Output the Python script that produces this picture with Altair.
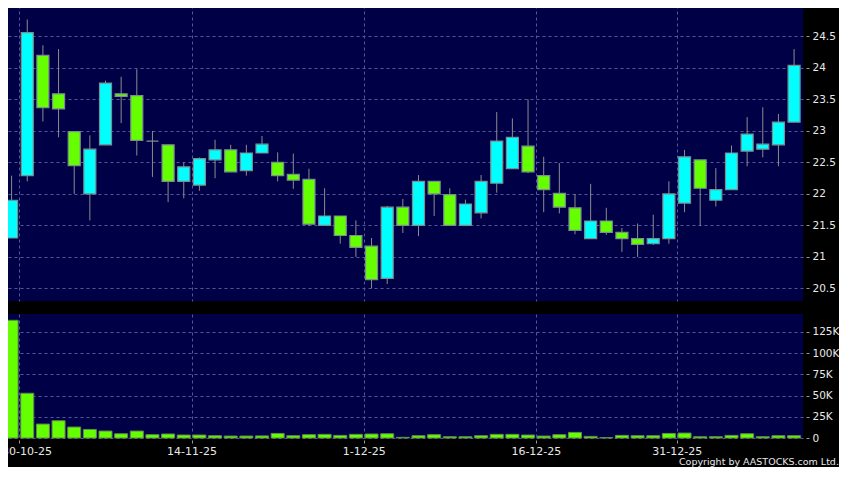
import altair as alt
import pandas as pd

# ---- data ----
opens = [21.30, 22.29, 24.20, 23.59, 22.99, 22.00, 22.78, 23.59, 23.56, 22.84,
         22.78, 22.20, 22.14, 22.54, 22.70, 22.37, 22.65, 22.50, 22.31, 22.23,
         21.50, 21.65, 21.34, 21.17, 20.66, 21.79, 21.50, 22.20, 21.99, 21.50,
         21.70, 22.17, 22.40, 22.76, 22.29, 22.01, 21.78, 21.29, 21.57, 21.39,
         21.29, 21.21, 21.29, 21.855, 22.54, 21.90, 22.07, 22.68, 22.71, 22.78,
         23.14]
closes = [21.90, 24.56, 23.37, 23.35, 22.45, 22.71, 23.76, 23.55, 22.85, 22.84,
          22.20, 22.43, 22.56, 22.70, 22.35, 22.65, 22.79, 22.29, 22.22, 21.52,
          21.65, 21.34, 21.15, 20.64, 21.79, 21.50, 22.20, 22.00, 21.50, 21.84,
          22.20, 22.84, 22.90, 22.35, 22.07, 21.79, 21.42, 21.57, 21.39, 21.29,
          21.20, 21.29, 22.00, 22.59, 22.09, 22.07, 22.65, 22.95, 22.79, 23.14,
          24.04]
highs = [22.29, 24.77, 24.36, 24.30, 22.99, 22.93, 23.80, 23.86, 23.98, 23.00,
         22.78, 22.50, 22.58, 22.86, 22.78, 22.78, 22.92, 22.66, 22.64, 22.40,
         22.09, 21.65, 21.58, 21.30, 21.81, 21.92, 22.30, 22.20, 22.09, 21.91,
         22.30, 23.30, 23.20, 23.50, 22.59, 22.49, 22.00, 22.16, 21.78, 21.46,
         21.53, 21.67, 22.20, 22.70, 22.54, 22.41, 22.77, 23.22, 23.375, 23.27,
         24.30]
lows = [21.30, 22.20, 23.15, 22.90, 22.00, 21.58, 22.78, 23.125, 22.61, 22.27,
        21.87, 21.93, 22.05, 22.25, 22.35, 22.29, 22.65, 22.20, 22.08, 21.49,
        21.50, 21.21, 21.00, 20.50, 20.57, 21.38, 21.33, 21.65, 21.50, 21.50,
        21.61, 22.02, 22.40, 22.33, 21.71, 21.69, 21.36, 21.29, 21.35, 21.08,
        21.00, 21.19, 21.21, 21.71, 21.49, 21.80, 22.07, 22.44, 22.58, 22.44,
        23.14]
volumes = [138600, 52700, 16400, 20300, 12900, 10100, 8200, 5000, 8200, 3900,
           4700, 3500, 3500, 2700, 2300, 2300, 2500, 5400, 2700, 3900,
           4300, 3100, 4300, 4700, 5000, 800, 2700, 3900, 1500, 1500,
           2700, 4300, 4300, 3500, 2300, 3900, 6600, 1900, 500, 3100,
           2700, 2700, 5400, 5800, 1500, 1500, 3100, 5000, 1500, 2700,
           2700]

date_labels = ["30-10-25", "14-11-25", "1-12-25", "16-12-25", "31-12-25"]
date_label_index = [0, 11, 22, 33, 42]
price_ticks = [20.5, 21, 21.5, 22, 22.5, 23, 23.5, 24, 24.5]
volume_ticks = [0, 25000, 50000, 75000, 100000, 125000]

# ---- styling / layout ----
NAVY = "#000046"
GRID = "#56569a"
CYAN = "#00ffff"
LIME = "#66ff00"
TEXT = "#e8e8e8"
W = 800
X_DOM = [-0.55, 50.57]
P_DOM = [20.3, 25.0]
V_DOM = [0, 146000]

n = len(opens)
df = pd.DataFrame({
    "i": list(range(n)),
    "open": opens, "close": closes, "high": highs, "low": lows,
    "volume": volumes,
})
df["dir"] = ["up" if c > o else ("down" if c < o else "flat")
             for o, c in zip(opens, closes)]

grid_values = [k + 0.5 for k in date_label_index]
expr = "'" + date_labels[-1] + "'"
for k, lab in reversed(list(zip(date_label_index[:-1], date_labels[:-1]))):
    expr = f"datum.value < {k + 1} ? '{lab}' : ({expr})"

xs = alt.Scale(domain=X_DOM, nice=False, zero=False, padding=0)
ps = alt.Scale(domain=P_DOM, nice=False, zero=False, padding=0)
vs = alt.Scale(domain=V_DOM, nice=False, zero=False, padding=0)

common = dict(gridColor=GRID, gridDash=[3, 3], gridWidth=1, domain=False,
              labelFont="DejaVu Sans", labelColor=TEXT, tickColor="#9a9a9a",
              labelOverlap=False, title=None)

x_top = alt.Axis(values=grid_values, grid=True, labels=False, ticks=False, **common)
x_bot = alt.Axis(values=grid_values, grid=True, labelExpr=expr, tickSize=3,
                 offset=2, labelPadding=2, labelFontSize=11, labelFlush=False,
                 labelOffset={"condition": {"test": f"datum.value < {date_label_index[1]}",
                                            "value": 7}, "value": 0},
                 **common)
y_price = alt.Axis(orient="right", values=price_ticks, format="~g", grid=True,
                   tickSize=3, offset=3, labelPadding=3, labelFontSize=10.5,
                   **common)
y_vol = alt.Axis(orient="right", values=volume_ticks, grid=True,
                 labelExpr="datum.value == 0 ? '0' : format(datum.value / 1000, 'd') + 'K'",
                 tickSize=3, offset=3, labelPadding=3, labelFontSize=10.5,
                 **common)

base = alt.Chart(df)
wicks = base.mark_rule(color="#8c8c8c", strokeWidth=1).encode(
    x=alt.X("i:Q", scale=xs, axis=x_top),
    y=alt.Y("low:Q", scale=ps, axis=y_price),
    y2="high:Q")
bodies = base.mark_bar(size=12, stroke="#7a9090", strokeWidth=1.2).encode(
    x=alt.X("i:Q", scale=xs, axis=x_top),
    y=alt.Y("open:Q", scale=ps, axis=y_price),
    y2="close:Q",
    color=alt.Color("dir:N", legend=None,
                    scale=alt.Scale(domain=["up", "down", "flat"],
                                    range=[CYAN, LIME, "#8c8c8c"])))
price = alt.layer(wicks, bodies).properties(width=W, height=296)

vol = base.mark_bar(size=13, color=LIME, stroke="#5f8a50", strokeWidth=1).encode(
    x=alt.X("i:Q", scale=xs, axis=x_bot),
    y=alt.Y("volume:Q", scale=vs, axis=y_vol),
).properties(width=W, height=124)

chart = alt.vconcat(price, vol, spacing=13).properties(
    padding={"left": -7, "top": -3, "right": 0, "bottom": 0},
    background="#000000",
    title=alt.TitleParams("Copyright by AASTOCKS.com Ltd.", orient="bottom",
                          anchor="end", frame="bounds", fontSize=9.5,
                          font="DejaVu Sans", color=TEXT, fontWeight="normal",
                          offset=1),
).configure_view(fill=NAVY, stroke=None)

chart.save("out.html", embed_options={"renderer": "svg", "actions": False})
